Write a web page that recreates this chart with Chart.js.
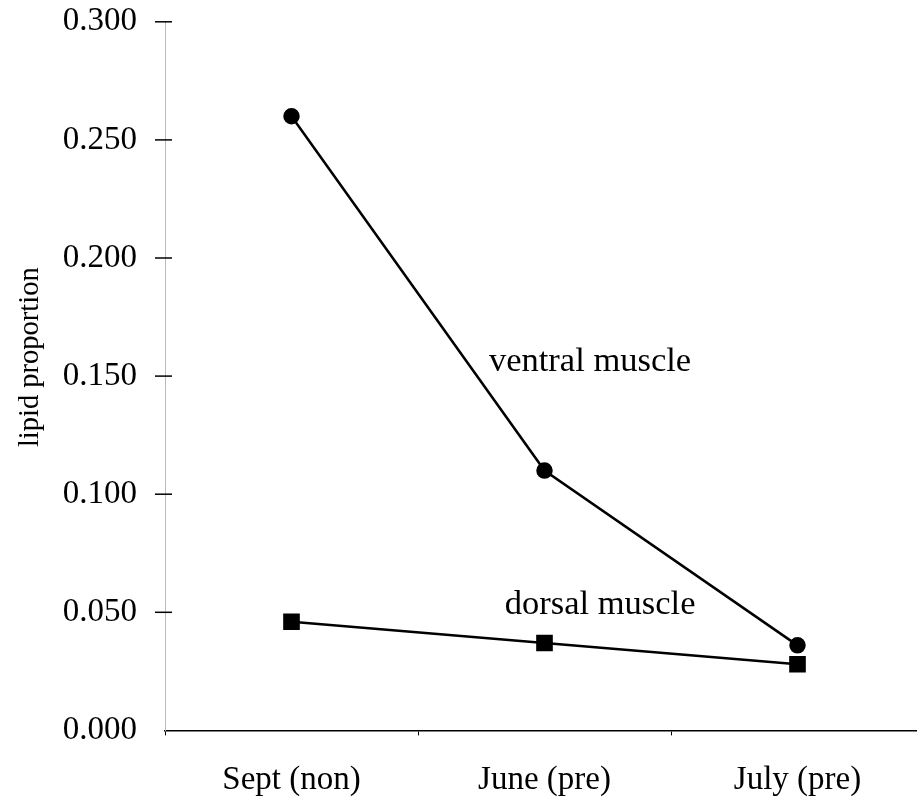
<!DOCTYPE html>
<html>
<head>
<meta charset="utf-8">
<script src="https://cdn.jsdelivr.net/npm/chart.js@4/dist/chart.umd.min.js"></script>
<style>
html,body{margin:0;padding:0;background:#fff;overflow:hidden;}
#wrap{width:940px;height:847px;margin-top:-18px;}
</style>
</head>
<body>
<div id="wrap"><canvas id="c" width="940" height="847"></canvas></div>
<script>
const categories = ["Sept (non)", "June (pre)", "July (pre)"];
const ventralMuscle = [0.260, 0.110, 0.036];
const dorsalMuscle = [0.046, 0.037, 0.028];
const yTicks = [0, 0.05, 0.10, 0.15, 0.20, 0.25, 0.30];
const yTitle = "lipid proportion";
const seriesLabels = [
  {text: "ventral muscle", x: 1.18, y: 0.156},
  {text: "dorsal muscle", x: 1.22, y: 0.053}
];

const FONT = "'Liberation Serif', 'Times New Roman', serif";

const annot = {
  id: 'annot',
  afterDatasetsDraw(chart) {
    const ctx = chart.ctx, xs = chart.scales.x, ys = chart.scales.y;
    ctx.save();
    ctx.fillStyle = '#000';
    ctx.font = '34.5px ' + FONT;
    ctx.textAlign = 'center';
    ctx.textBaseline = 'middle';
    seriesLabels.forEach(l => ctx.fillText(l.text, xs.getPixelForValue(l.x), ys.getPixelForValue(l.y)));
    ctx.save();
    ctx.font = '28.5px ' + FONT;
    ctx.translate(31, ys.getPixelForValue(0.158));
    ctx.rotate(-Math.PI / 2);
    ctx.fillText(yTitle, 0, 0);
    ctx.restore();
    ctx.strokeStyle = '#000';
    ctx.lineWidth = 1.5;
    yTicks.forEach(v => {
      if (v === 0) return;
      const py = ys.getPixelForValue(v);
      ctx.beginPath();
      ctx.moveTo(xs.left - 10, py);
      ctx.lineTo(xs.left + 7, py);
      ctx.stroke();
    });
    ctx.restore();
  }
};

new Chart(document.getElementById('c'), {
  type: 'line',
  data: {
    labels: categories,
    datasets: [
      {label: 'ventral muscle', data: ventralMuscle, borderColor: '#000', backgroundColor: '#000',
       borderWidth: 2.5, pointStyle: 'circle', pointRadius: 7, pointBackgroundColor: '#000', tension: 0},
      {label: 'dorsal muscle', data: dorsalMuscle, borderColor: '#000', backgroundColor: '#000',
       borderWidth: 2.5, pointStyle: 'rect', pointRadius: 10, pointBackgroundColor: '#000', tension: 0}
    ]
  },
  options: {
    responsive: false,
    animation: false,
    layout: {padding: {left: 14, top: -17, right: 16, bottom: 4}},
    plugins: {legend: {display: false}, tooltip: {enabled: false}},
    scales: {
      x: {
        offset: true,
        grid: {display: true, drawOnChartArea: false, offset: true, tickLength: 5, color: '#000', lineWidth: 1},
        border: {display: true, color: '#000', width: 1.5},
        ticks: {color: '#000', font: {family: FONT, size: 33}, padding: 25}
      },
      y: {
        min: 0, max: 0.3,
        afterBuildTicks: (s) => { s.ticks = yTicks.map(v => ({value: v})); },
        afterFit: (s) => { s.width = 151; },
        grid: {display: false, drawOnChartArea: false},
        border: {display: true, color: '#bbb', width: 1, dash: [3, 14]},
        ticks: {color: '#000', font: {family: FONT, size: 33}, padding: 20,
                callback: (v) => Number(v).toFixed(3)},
        title: {display: false}
      }
    }
  },
  plugins: [annot]
});
</script>
</body>
</html>
